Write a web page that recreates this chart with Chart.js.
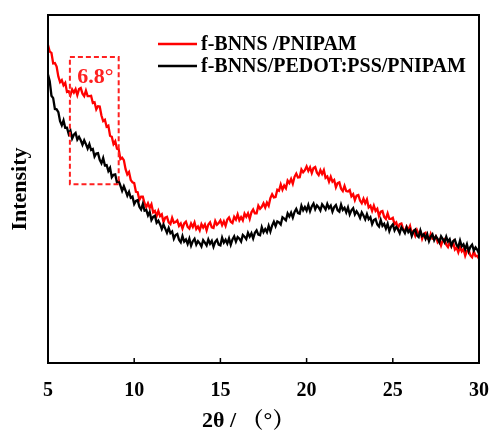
<!DOCTYPE html>
<html>
<head>
<meta charset="utf-8">
<script src="https://cdn.jsdelivr.net/npm/chart.js@4.4.1/dist/chart.umd.min.js"></script>
<style>
html,body{margin:0;padding:0;background:#fff;}
#wrap{width:497px;height:437px;}
</style>
</head>
<body>
<div id="wrap"><canvas id="c" width="497" height="437"></canvas></div>
<script>
const seriesNames = ['f-BNNS /PNIPAM', 'f-BNNS/PEDOT:PSS/PNIPAM'];
const xTicks = [5, 10, 15, 20, 25, 30];
const xTitle = '2θ / （°）';
const yTitle = 'Intensity';
const angles = [
5.0,5.1,5.2,5.3,5.4,5.5,5.6,5.7,5.8,5.9,6.0,6.1,6.2,6.3,6.4,6.5,6.6,6.7,6.8,6.9,
7.0,7.1,7.2,7.3,7.4,7.5,7.6,7.7,7.8,7.9,8.0,8.1,8.2,8.3,8.4,8.5,8.6,8.7,8.8,8.9,
9.0,9.1,9.2,9.3,9.4,9.5,9.6,9.7,9.8,9.9,10.0,10.1,10.2,10.3,10.4,10.5,10.6,10.7,10.8,10.9,
11.0,11.1,11.2,11.3,11.4,11.5,11.6,11.7,11.8,11.9,12.0,12.1,12.2,12.3,12.4,12.5,12.6,12.7,12.8,12.9,
13.0,13.1,13.2,13.3,13.4,13.5,13.6,13.7,13.8,13.9,14.0,14.1,14.2,14.3,14.4,14.5,14.6,14.7,14.8,14.9,
15.0,15.1,15.2,15.3,15.4,15.5,15.6,15.7,15.8,15.9,16.0,16.1,16.2,16.3,16.4,16.5,16.6,16.7,16.8,16.9,
17.0,17.1,17.2,17.3,17.4,17.5,17.6,17.7,17.8,17.9,18.0,18.1,18.2,18.3,18.4,18.5,18.6,18.7,18.8,18.9,
19.0,19.1,19.2,19.3,19.4,19.5,19.6,19.7,19.8,19.9,20.0,20.1,20.2,20.3,20.4,20.5,20.6,20.7,20.8,20.9,
21.0,21.1,21.2,21.3,21.4,21.5,21.6,21.7,21.8,21.9,22.0,22.1,22.2,22.3,22.4,22.5,22.6,22.7,22.8,22.9,
23.0,23.1,23.2,23.3,23.4,23.5,23.6,23.7,23.8,23.9,24.0,24.1,24.2,24.3,24.4,24.5,24.6,24.7,24.8,24.9,
25.0,25.1,25.2,25.3,25.4,25.5,25.6,25.7,25.8,25.9,26.0,26.1,26.2,26.3,26.4,26.5,26.6,26.7,26.8,26.9,
27.0,27.1,27.2,27.3,27.4,27.5,27.6,27.7,27.8,27.9,28.0,28.1,28.2,28.3,28.4,28.5,28.6,28.7,28.8,28.9,
29.0,29.1,29.2,29.3,29.4,29.5,29.6,29.7,29.8,29.9,30.0];
const redValues = [
91.4,89.5,89.1,86.1,86.2,85.2,82.3,80.7,81.3,79.8,80.5,77.9,78.1,76.9,78.6,77.7,78.7,77.0,78.7,79.0,
77.4,76.7,78.3,76.7,76.7,76.8,74.7,74.9,72.9,73.8,73.7,71.1,69.5,69.9,67.9,68.2,65.3,65.0,62.9,63.7,
61.6,61.4,58.6,59.0,58.3,55.7,54.2,54.9,52.6,51.9,51.7,49.2,49.1,46.9,47.8,47.8,45.9,44.8,45.9,44.6,
45.6,43.3,43.7,42.2,43.7,42.2,42.7,40.5,41.8,42.0,40.4,39.9,41.7,40.3,40.5,41.0,39.4,40.1,38.6,40.1,
40.6,39.1,38.6,40.1,39.1,40.4,38.5,39.2,38.1,39.9,38.9,39.8,38.1,39.8,40.4,39.0,38.8,40.8,39.7,40.2,
41.0,39.6,40.7,39.4,41.2,41.8,40.6,40.2,42.0,41.2,42.7,41.0,41.9,41.0,42.9,42.0,43.0,41.4,43.3,44.1,
43.0,43.0,45.2,44.3,44.9,45.9,44.7,46.1,45.2,47.4,48.5,47.6,47.7,49.8,49.5,51.3,49.8,51.0,50.2,52.4,
51.7,52.9,51.5,53.5,54.4,53.3,53.4,55.6,54.8,55.4,56.5,55.2,56.2,54.6,56.0,56.3,54.7,54.0,55.4,54.3,
55.4,53.2,53.6,52.1,53.5,52.1,52.6,50.5,51.7,51.9,50.1,49.4,50.9,49.4,49.3,49.7,47.9,48.5,46.8,48.1,
48.3,46.7,45.9,47.2,45.9,47.0,44.7,45.2,43.7,45.2,43.7,44.3,42.2,43.5,43.7,42.0,41.4,43.0,41.4,41.4,
41.7,39.9,40.4,38.7,39.9,40.1,38.5,37.8,39.2,38.2,39.4,37.3,37.9,36.6,38.2,37.0,37.7,35.7,37.1,37.4,
35.8,35.4,37.1,35.7,35.8,36.4,34.7,35.4,33.8,35.3,35.6,34.0,33.3,34.7,33.5,34.7,32.6,33.2,31.8,33.4,
32.1,32.8,30.8,32.2,32.5,30.9,30.4,32.1,30.7,30.8,29.9];
const blackValues = [
82.9,81.0,76.8,76.1,73.0,72.9,72.1,69.5,68.3,69.7,67.6,67.6,65.8,66.8,64.5,65.6,66.1,64.2,65.0,64.0,
62.7,64.0,62.9,61.6,62.9,61.2,61.5,59.3,60.2,60.3,58.4,57.4,58.9,56.8,56.9,55.2,56.1,53.4,54.1,54.2,
51.9,52.3,51.0,49.5,50.8,49.5,48.1,49.2,47.5,47.8,45.7,46.6,46.8,44.9,44.1,45.7,43.8,44.0,42.4,43.4,
41.1,42.0,42.3,40.3,40.9,39.9,38.5,39.8,38.6,37.4,38.8,37.3,37.8,35.7,36.8,37.1,35.4,34.7,36.5,34.9,
35.5,34.2,35.7,33.7,35.0,35.7,34.0,35.0,34.4,33.5,35.3,34.6,33.8,35.5,34.3,35.1,33.4,34.8,35.4,34.0,
33.8,36.0,34.6,35.4,34.3,35.8,34.0,35.5,36.4,34.9,36.2,35.7,34.9,36.8,36.3,35.6,37.4,36.3,37.3,35.8,
37.4,38.1,36.9,36.7,39.0,37.6,38.5,37.6,39.4,37.8,39.5,40.6,39.3,40.7,40.4,39.8,41.9,41.5,41.0,43.0,
42.1,43.2,41.8,43.4,44.3,43.1,42.9,45.2,43.9,44.8,43.8,45.4,43.6,45.0,45.8,44.2,45.3,44.7,43.8,45.6,
44.9,44.1,45.7,44.5,45.2,43.5,44.8,45.4,43.9,43.5,45.5,44.0,44.6,43.3,44.7,42.7,43.9,44.5,42.7,43.6,
42.8,41.7,43.3,42.4,41.3,42.8,41.3,41.9,39.9,41.1,41.4,39.8,39.2,41.1,39.4,40.0,38.6,40.0,37.9,39.2,
39.8,38.1,39.1,38.4,37.3,39.0,38.2,37.3,38.9,37.6,38.3,36.5,37.8,38.3,36.7,36.2,38.1,36.5,37.0,35.7,
37.0,35.0,36.3,37.0,35.3,36.4,35.7,34.7,36.4,35.6,34.7,36.3,34.9,35.6,33.7,35.0,35.4,33.9,33.3,35.2,
33.5,34.1,32.7,34.1,32.1,33.4,34.0,32.3,33.2,32.5,31.4];
const peakLabel = '6.8°';
const peakBox = {x0: 6.27, x1: 9.1, y0: 87.9, y1: 51.4};

const FONT = "'Liberation Serif','Times New Roman','Noto Serif CJK SC','Noto Sans CJK SC',serif";

const framePlugin = {
  id: 'frame',
  afterDraw(chart) {
    const {ctx, chartArea: a, scales} = chart;
    const xs = scales.x, ys = scales.y;
    ctx.save();
    // inward ticks
    ctx.strokeStyle = '#000';
    ctx.lineWidth = 1.5;
    xTicks.slice(1, -1).forEach(v => {
      const px = xs.getPixelForValue(v);
      ctx.beginPath();
      ctx.moveTo(px, a.bottom);
      ctx.lineTo(px, a.bottom - 5);
      ctx.stroke();
    });
    // frame
    ctx.lineWidth = 2;
    ctx.strokeRect(a.left, a.top, a.right - a.left, a.bottom - a.top);
    // peak box
    const bx0 = xs.getPixelForValue(peakBox.x0), bx1 = xs.getPixelForValue(peakBox.x1);
    const by0 = ys.getPixelForValue(peakBox.y0), by1 = ys.getPixelForValue(peakBox.y1);
    ctx.strokeStyle = '#ff2020';
    ctx.lineWidth = 2;
    ctx.setLineDash([5, 3]);
    ctx.strokeRect(bx0, by0, bx1 - bx0, by1 - by0);
    ctx.setLineDash([]);
    ctx.fillStyle = '#ff2020';
    ctx.font = "bold 22px " + FONT;
    ctx.textAlign = 'center';
    ctx.textBaseline = 'middle';
    ctx.fillText(peakLabel, (bx0 + bx1) / 2 + 1, by0 + 20);
    // legend
    const colors = ['#ff0000', '#000000'];
    const ly = [44, 66];
    ctx.font = "bold 20px " + FONT;
    ctx.textAlign = 'left';
    ctx.lineWidth = 2.5;
    seriesNames.forEach((n, i) => {
      ctx.strokeStyle = colors[i];
      ctx.beginPath();
      ctx.moveTo(158, ly[i]);
      ctx.lineTo(197, ly[i]);
      ctx.stroke();
      ctx.fillStyle = '#000';
      ctx.fillText(n, 201, ly[i] + 1);
    });
    // x title
    ctx.font = "bold 22px " + FONT;
    ctx.fillStyle = '#000';
    ctx.fillText(xTitle, 202, 421);
    ctx.restore();
  }
};

new Chart(document.getElementById('c'), {
  type: 'line',
  data: {
    datasets: [
      {label: seriesNames[1], data: angles.map((x, i) => ({x, y: blackValues[i]})), borderColor: '#000', borderWidth: 2.3},
      {label: seriesNames[0], data: angles.map((x, i) => ({x, y: redValues[i]})), borderColor: '#ff0000', borderWidth: 2.3}
    ]
  },
  options: {
    responsive: false,
    animation: false,
    devicePixelRatio: 1,
    layout: {padding: {top: 15, right: 15, left: 0, bottom: 0}},
    elements: {point: {radius: 0}, line: {tension: 0}},
    plugins: {legend: {display: false}, tooltip: {enabled: false}},
    scales: {
      x: {
        type: 'linear', min: 5, max: 30,
        afterBuildTicks(scale) { scale.ticks = xTicks.map(v => ({value: v})); },
        afterFit(scale) { scale.height = 74; },
        grid: {display: false},
        border: {display: true, color: '#000', width: 2},
        ticks: {color: '#000', font: {family: FONT, size: 20, weight: 'bold'}, padding: 8, maxRotation: 0},
        title: {display: false}
      },
      y: {
        min: 0, max: 100,
        afterFit(scale) { scale.width = 48; },
        grid: {display: false},
        border: {display: true, color: '#000', width: 2},
        ticks: {display: false},
        title: {display: true, text: yTitle, color: '#000', font: {family: FONT, size: 22, weight: 'bold'}, padding: {top: 7, bottom: 0}}
      }
    }
  },
  plugins: [framePlugin]
});
</script>
</body>
</html>
